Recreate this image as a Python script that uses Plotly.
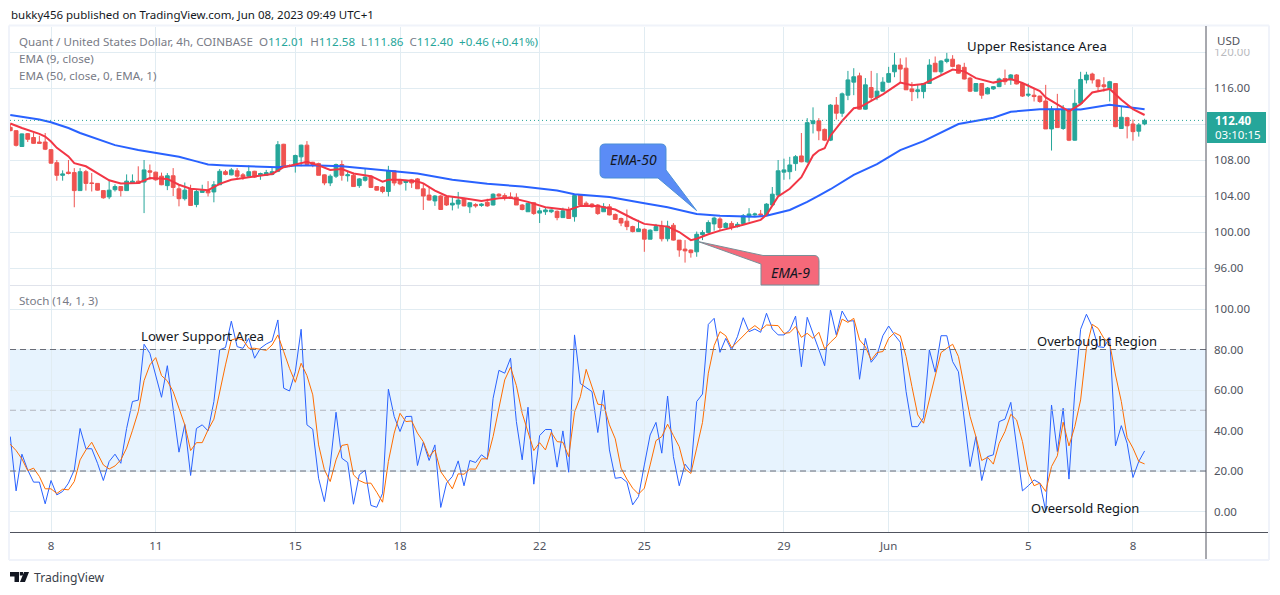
import plotly.graph_objects as go

W, H = 1280, 595

# 4h bars, index 0 = May 8 00:00
bars = list(range(-7, 189))

opens = [111.63, 111.26, 109.5, 110.93, 110.5, 110.0, 110.0,
    109.15, 107.7, 106.3, 106.65, 106.6, 104.6, 106.7, 105.45, 105.4, 104.6,
    103.9, 104.7, 105.05, 104.6, 105.45, 105.65, 105.55, 106.8, 106.65, 106.2,
    105.15, 106.25, 104.8, 103.7, 104.75, 103.05, 104.4, 104.6, 104.45, 105.25,
    106.7, 106.35, 106.8, 106.35, 106.2, 106.75, 106.3, 106.3, 106.4, 106.75,
    109.75, 107.4, 107.5, 108.35, 109.65, 107.75, 107.6, 106.35, 105.45, 106.2,
    107.5, 106.25, 106.3, 105.15, 105.75, 106.2, 105.05, 105.0, 104.5, 106.8,
    105.8, 105.5, 105.8, 105.9, 104.8, 104.1, 103.45, 104.0, 103.9, 103.0,
    103.1, 103.7, 102.8, 103.05, 102.95, 103.3, 103.0, 104.2, 104.05, 103.9,
    103.85, 103.0, 102.25, 103.25, 102.1, 102.25, 102.25, 102.3, 101.6, 102.45,
    101.7, 104.1, 103.2, 103.1, 103.0, 102.25, 102.8, 101.95, 101.5, 101.2,
    100.6, 100.05, 100.3, 99.2, 100.15, 100.65, 99.25, 100.75, 99.1, 98.1,
    98.0, 97.8, 99.7, 99.95, 100.9, 101.45, 100.5, 100.95, 100.6, 100.95,
    101.7, 101.9, 102.0, 101.9, 103.0, 104.1, 106.65, 106.7, 107.6, 108.45,
    107.8, 112.05, 112.35, 111.4, 110.2, 114.1, 113.2, 115.2, 116.65, 117.35,
    113.65, 116.05, 114.95, 115.65, 116.65, 117.8, 118.55, 118.2, 115.9, 115.6,
    115.6, 116.5, 118.75, 117.8, 118.95, 119.2, 118.55, 118.3, 117.1, 115.65,
    116.5, 115.35, 115.9, 116.15, 117.05, 116.9, 117.45, 116.5, 115.2, 115.2,
    115.1, 114.55, 111.45, 113.65, 111.5, 113.5, 110.2, 114.3, 116.9, 117.55,
    116.9, 116.35, 115.95, 116.5, 111.5, 112.7, 112.0, 111.2, 112.01]

highs = [112.0, 111.3, 110.95, 111.0, 111.0, 110.7, 111.0,
    109.2, 108.0, 106.85, 108.0, 107.1, 107.1, 106.9, 106.55, 105.4, 104.6,
    105.8, 105.3, 105.1, 106.4, 106.4, 107.3, 108.0, 107.5, 106.7, 106.6,
    106.55, 107.1, 105.25, 105.5, 105.25, 104.75, 105.25, 105.65, 105.65, 107.0,
    106.9, 107.1, 107.1, 106.55, 107.4, 106.8, 106.6, 106.9, 107.1, 110.1,
    109.8, 107.5, 108.6, 109.7, 110.1, 107.8, 107.7, 106.4, 106.4, 107.6,
    107.95, 106.75, 106.6, 106.0, 107.1, 106.3, 105.1, 105.1, 107.35, 106.85,
    105.9, 105.8, 105.9, 106.0, 105.4, 104.95, 104.1, 104.1, 104.0, 103.9,
    104.45, 103.8, 103.3, 103.2, 103.2, 103.7, 104.3, 104.3, 104.3, 104.4,
    104.3, 103.1, 103.25, 103.3, 102.7, 102.75, 102.5, 102.4, 102.7, 102.8,
    104.2, 104.2, 103.4, 103.2, 103.1, 103.2, 103.1, 102.05, 101.6, 102.5,
    100.7, 101.35, 100.4, 100.3, 100.9, 101.25, 101.25, 101.0, 99.1, 99.1,
    98.05, 100.05, 100.2, 101.3, 101.7, 101.65, 101.1, 101.2, 101.1, 102.0,
    102.65, 102.15, 102.45, 103.2, 105.0, 108.0, 108.15, 108.35, 108.55, 111.0,
    112.65, 113.85, 112.65, 111.5, 114.2, 115.0, 115.5, 117.9, 118.2, 117.7,
    117.1, 117.9, 117.65, 117.2, 118.35, 119.9, 119.3, 119.4, 116.65, 116.35,
    116.55, 119.2, 119.5, 119.1, 119.9, 119.65, 118.6, 118.8, 117.25, 116.55,
    116.55, 116.1, 116.2, 117.15, 118.05, 117.55, 117.55, 116.6, 116.5, 116.0,
    115.15, 116.35, 114.0, 115.35, 114.1, 113.7, 115.85, 117.8, 117.8, 117.7,
    116.95, 117.2, 116.8, 116.55, 113.9, 112.8, 112.5, 112.1, 112.58]

lows = [111.2, 109.5, 109.5, 110.0, 109.8, 109.8, 109.1,
    107.6, 105.7, 105.7, 106.4, 102.75, 104.6, 104.6, 104.5, 104.6, 103.7,
    103.65, 104.5, 103.95, 104.6, 105.4, 105.4, 102.1, 105.8, 105.7, 105.2,
    104.65, 104.0, 102.85, 103.5, 102.95, 102.75, 104.4, 103.95, 103.3, 105.25,
    106.3, 106.3, 105.8, 105.8, 106.1, 106.0, 105.8, 106.25, 106.3, 106.65,
    107.15, 107.2, 106.6, 107.3, 107.5, 107.2, 106.3, 105.2, 105.1, 106.0,
    105.7, 105.6, 105.05, 104.9, 105.6, 104.95, 104.6, 104.3, 103.95, 105.15,
    105.2, 104.6, 104.9, 104.8, 102.45, 103.5, 102.9, 102.45, 102.9, 102.4,
    102.6, 102.85, 102.1, 102.7, 102.8, 102.8, 102.95, 103.9, 103.5, 103.7,
    103.0, 102.4, 102.25, 101.9, 101.0, 101.9, 102.1, 101.3, 101.6, 101.5,
    101.15, 103.0, 102.9, 102.7, 101.9, 102.25, 101.85, 101.4, 100.65, 100.2,
    99.95, 100.0, 97.8, 99.2, 100.1, 98.95, 98.95, 99.05, 97.25, 96.6,
    97.15, 97.25, 99.1, 99.9, 100.15, 100.2, 100.45, 100.2, 100.5, 100.9,
    101.15, 101.7, 101.65, 101.85, 103.0, 103.9, 105.8, 105.85, 106.8, 107.75,
    107.65, 110.95, 110.2, 110.1, 110.1, 112.5, 112.8, 114.65, 115.2, 113.6,
    113.6, 114.65, 114.65, 115.6, 116.6, 117.2, 116.6, 115.8, 114.55, 114.85,
    114.85, 116.45, 117.8, 117.45, 118.75, 118.3, 117.6, 116.95, 115.55, 115.6,
    114.8, 115.3, 115.8, 116.1, 116.35, 116.35, 116.4, 115.0, 115.0, 114.5,
    114.35, 111.45, 109.05, 111.6, 111.35, 110.1, 110.15, 114.3, 116.5, 116.5,
    115.6, 115.6, 114.5, 111.65, 111.5, 110.4, 110.15, 110.6, 111.86]

closes = [111.26, 109.63, 110.9, 110.3, 109.85, 109.85, 109.2,
    107.65, 106.3, 106.45, 106.5, 104.6, 106.7, 105.4, 105.4, 104.65, 103.8,
    104.65, 105.05, 104.6, 105.65, 105.65, 105.4, 106.9, 106.65, 105.8, 105.25,
    106.25, 104.95, 103.7, 104.65, 102.95, 104.5, 104.6, 104.35, 105.25, 106.75,
    106.4, 106.9, 106.2, 106.1, 106.7, 106.1, 106.5, 106.6, 106.7, 109.7,
    107.2, 107.3, 108.5, 109.65, 107.5, 107.5, 106.3, 105.45, 106.2, 107.5,
    106.3, 106.35, 105.05, 105.9, 106.1, 104.95, 104.65, 104.5, 106.8, 105.45,
    105.35, 105.7, 105.45, 104.8, 104.0, 103.55, 104.0, 102.5, 103.0, 103.2,
    103.55, 102.9, 103.25, 102.9, 103.1, 102.9, 104.2, 104.0, 103.85, 103.8,
    103.0, 102.5, 103.2, 102.05, 102.35, 102.45, 102.45, 101.6, 102.35, 101.5,
    104.05, 103.0, 102.95, 102.8, 102.05, 102.8, 101.9, 101.4, 101.0, 100.6,
    100.05, 100.35, 99.2, 100.2, 100.6, 99.25, 100.65, 99.1, 98.0, 97.9,
    97.7, 99.75, 99.95, 101.05, 101.55, 100.5, 100.95, 100.5, 100.85, 101.8,
    102.0, 102.0, 101.9, 103.1, 104.2, 106.8, 106.9, 107.45, 108.37, 107.8,
    112.15, 112.35, 111.25, 110.2, 114.1, 113.2, 115.35, 116.9, 117.25, 113.65,
    116.35, 114.95, 115.65, 116.65, 117.6, 118.55, 118.1, 115.8, 115.6, 115.8,
    116.5, 118.55, 117.8, 119.0, 119.2, 118.4, 117.65, 117.0, 115.65, 116.5,
    115.2, 116.0, 116.15, 117.0, 116.7, 117.45, 116.45, 115.1, 115.3, 115.05,
    114.5, 111.45, 113.65, 111.6, 113.65, 110.2, 114.3, 116.95, 117.45, 116.9,
    116.15, 116.15, 116.7, 111.7, 112.75, 111.8, 111.15, 111.9, 112.40]

ema9_bars = [-7, -5, -2, -1, 0, 1, 3, 4, 6, 8, 10, 12, 15, 17, 20, 22, 24, 27, 29, 31, 34, 38, 40, 42,
    44, 46, 48, 50, 52, 55, 57, 58, 60, 63, 64, 66, 68, 71, 74, 77, 79, 82, 85, 89, 91, 94, 97, 100,
    102, 106, 108, 110, 111, 113, 115, 119, 122, 123, 125, 127, 129, 131, 132, 133, 134, 136, 138,
    139, 141, 143, 146, 148, 150, 153, 155, 157, 159, 162, 165, 167, 170, 171, 173, 175, 177, 179,
    182, 184, 186, 188]
ema9 = [112.05, 111.55, 110.9, 110.6, 110.05, 109.35, 108.4, 107.65, 107.3, 106.55, 105.75, 105.4,
    105.45, 106.0, 105.9, 105.25, 104.8, 104.65, 105.35, 105.8, 106.05, 106.45, 107.2, 107.5,
    107.8, 107.4, 106.9, 107.0, 106.5, 106.2, 105.6, 105.8, 105.8, 105.6, 105.4, 104.6, 104.0,
    103.75, 103.45, 103.75, 103.8, 103.35, 102.75, 102.45, 102.9, 102.9, 102.5, 101.5, 100.9,
    100.6, 100.0, 99.1, 99.25, 99.75, 100.15, 100.8, 101.35, 101.9, 103.95, 104.8, 106.1, 108.5,
    109.05, 109.3, 110.7, 112.35, 113.75, 113.85, 114.55, 115.3, 116.6, 116.3, 116.45, 117.45,
    118.05, 117.85, 117.1, 116.6, 117.0, 116.55, 115.65, 114.95, 114.2, 113.4, 114.2, 115.5,
    115.9, 114.7, 113.65, 113.0]

ema50_bars = [-7, -2, 0, 3, 5, 8, 11, 15, 19, 22, 25, 27, 30, 35, 39, 42, 46, 50, 54, 60, 63, 69, 75,
    81, 87, 90, 96, 102, 106, 111, 115, 121, 123, 127, 130, 132, 134, 138, 142, 146, 150, 156, 162,
    165, 170, 173, 177, 182, 184, 188]
ema50 = [113.0, 112.5, 112.2, 111.55, 111.0, 110.35, 109.65, 109.1, 108.65, 108.35, 107.85, 107.5,
    107.4, 107.3, 107.2, 107.4, 107.4, 107.3, 107.05, 106.7, 106.5, 105.8, 105.35, 105.05, 104.6,
    104.2, 103.9, 103.2, 102.75, 102.0, 101.8, 101.7, 101.8, 102.45, 103.35, 104.05, 104.75,
    106.35, 107.55, 109.1, 110.1, 112.0, 112.7, 113.35, 113.65, 113.65, 113.6, 114.15, 114.0, 113.65]

stoch_k = [37, 10.2, 28.3, 20.5, 14.5, 14.5, 3.8,
    15.3, 8.2, 9.9, 14, 20.5, 41, 31, 31, 23.8, 15.3,
    24.7, 28.3, 23.8, 41, 54.3, 55, 82.6, 78.1, 66.6, 56.4,
    72, 50.7, 29.3, 43, 17.8, 41, 42.8, 39.8, 54.3, 79.8,
    81, 94, 81.4, 80.6, 85.5, 75.7, 80.6, 82.7, 84.2, 94.6,
    60.9, 59.5, 69, 90, 42.8, 40.6, 16.4, 4.9, 23, 49,
    26.3, 24.2, 3.6, 18.1, 20.4, 3, 2.1, 9, 60.4, 46.9,
    39.5, 46.9, 47, 22.7, 34.2, 25.2, 32.9, 2, 14, 17.3,
    25, 12.7, 25.2, 24.2, 28, 25.8, 55.9, 69.7, 68.3, 75.7,
    44.4, 25.5, 51.5, 13.5, 37.5, 40.5, 40.5, 21.9, 39.8, 19.4,
    87.2, 63.2, 61.2, 59.2, 39, 59.9, 30.4, 16.4, 16.8, 14.5,
    3.3, 7.4, 23, 37.8, 44, 28.8, 57, 27.1, 12.7, 23.4,
    19.7, 54.3, 58, 92.4, 95.4, 78.6, 85.5, 79.8, 86.3, 95.7,
    88.8, 90.1, 88.5, 97.9, 90.1, 87.2, 87.2, 89.6, 96.5, 71.5,
    95.9, 88, 79.8, 72, 99.5, 87.2, 99, 94, 94.2, 65.3,
    85.5, 73.7, 77.3, 86.8, 91.6, 87.2, 83.6, 59.2, 41.9, 41.9,
    46.4, 79.8, 68.8, 86.8, 86.8, 74, 69, 46, 22.2, 37,
    15.3, 27.1, 28, 44.4, 45.6, 53.9, 32.9, 10.2, 12.7, 15.6,
    14, 0.3, 52.6, 29.6, 51, 16, 59.2, 90, 97.4, 91.3,
    81.4, 81, 85.9, 32.4, 42.4, 33.7, 16.8, 24.7, 29.9]

stoch_d = [33.2, 30.1, 26, 20.2, 21.4, 17.3, 11.2,
    11.2, 8.9, 11, 10.7, 14.8, 25.5, 30.4, 34.2, 28.3, 23,
    21, 22.5, 25.5, 31.3, 40, 49.3, 64.6, 72.4, 76, 67.1,
    64.5, 59.2, 51, 42.8, 30.1, 34, 34, 40.3, 45.6, 59.5,
    72.4, 84.7, 85.5, 84.7, 80.6, 80.6, 80.1, 79.6, 82.2, 87.2,
    79, 70.7, 63.8, 73.2, 67.1, 57.6, 32.9, 20.6, 14.8, 25.5,
    32.6, 33.2, 18.1, 15.3, 14, 14, 9.5, 4.6, 24.7, 38.7,
    48.5, 44.4, 44.7, 38.7, 34.5, 27.1, 30.4, 19.7, 15.6, 11.2,
    18.6, 18.4, 21, 20.9, 26, 26, 37, 50.2, 65, 71.2,
    62.2, 48.5, 39.5, 30.1, 34, 30.4, 39.1, 34.5, 34.2, 27.1,
    49, 56.7, 70.2, 61.7, 53, 52.6, 42.8, 35.9, 21.4, 16,
    11.5, 8.6, 11.5, 23, 35, 37, 43.1, 37.5, 32, 21,
    18.8, 31.3, 44, 68.3, 81.9, 88.8, 86.8, 80.9, 83.9, 86.8,
    89.6, 91.8, 89.6, 92.1, 92.1, 91.8, 88, 88.3, 91.3, 86,
    88, 85.5, 88.5, 80.3, 83.6, 86.3, 95, 93.4, 95.4, 84.7,
    81.4, 74.8, 78.5, 79, 85.5, 88.3, 86.8, 76.5, 61.7, 47.7,
    43.6, 55.1, 65.8, 78.5, 80.6, 82.6, 76.5, 61.7, 46.9, 37,
    25.2, 26.8, 23.4, 33.7, 39.5, 48, 45.2, 34.5, 19.2, 12.7,
    14, 9.9, 22.2, 27.5, 44.1, 32.4, 41.9, 55.1, 80.6, 92.4,
    90.5, 85.5, 83, 67.4, 54.3, 36.5, 31.3, 24.7, 23.5]

date_ticks = [0, 18, 42, 60, 84, 102, 126, 144, 168, 186]
date_labels = ["8", "11", "15", "18", "22", "25", "29", "Jun", "5", "8"]
price_ticks = [96, 100, 104, 108, 112, 116, 120]
# 112.00 sits under the last price box
price_labels = ["96.00", "100.00", "104.00", "108.00", "", "116.00", "120.00"]
stoch_ticks = [0, 20, 40, 60, 80, 100]
last_price = 112.40

FONT = "Noto Sans"
GRID = "#e1ecf2"
UP = "#26a69a"
DOWN = "#ef5350"
AXIS = "#50535e"
GREY = "#787b86"


def pt(x, y):
    # pixel position -> paper coordinates for path strings
    return f"{x / W:.5f},{1 - y / H:.5f}"


def rect(x0, y0, x1, y1, **kw):
    return dict(type="rect", xref="paper", yref="paper", x0=x0 / W, x1=x1 / W,
                y0=1 - y0 / H, y1=1 - y1 / H, **kw)


def seg(x0, y0, x1, y1, color, width=1):
    return dict(type="line", xref="paper", yref="paper", x0=x0 / W, x1=x1 / W,
                y0=1 - y0 / H, y1=1 - y1 / H, line=dict(color=color, width=width), layer="above")


def label(x, y, text, color="#131722", size=13, anchor="left", **kw):
    return dict(xref="paper", yref="paper", x=x / W, y=1 - y / H, text=text, showarrow=False,
                xanchor=anchor, yanchor="middle", font=dict(family=FONT, size=size, color=color),
                borderpad=0, **kw)


fig = go.Figure()

fig.add_trace(go.Candlestick(
    x=bars, open=opens, high=highs, low=lows, close=closes,
    increasing=dict(line=dict(color=UP, width=1), fillcolor=UP),
    decreasing=dict(line=dict(color=DOWN, width=1), fillcolor=DOWN),
    whiskerwidth=0, xaxis="x", yaxis="y",
))
fig.add_trace(go.Scatter(x=ema50_bars, y=ema50, mode="lines", line=dict(color="#2962ff", width=2),
                         xaxis="x", yaxis="y"))
fig.add_trace(go.Scatter(x=ema9_bars, y=ema9, mode="lines", line=dict(color="#f23645", width=2),
                         xaxis="x", yaxis="y"))
fig.add_trace(go.Scatter(x=bars, y=stoch_k, mode="lines", line=dict(color="#2962ff", width=1),
                         xaxis="x2", yaxis="y2"))
fig.add_trace(go.Scatter(x=bars, y=stoch_d, mode="lines", line=dict(color="#ff6d00", width=1),
                         xaxis="x2", yaxis="y2"))

# x scale: bar 0 sits at pixel 51, 5.817 px per bar
x_range = [(10 - 51) / 5.817, (1206 - 51) / 5.817]
price_range = [116 - (285 - 88) / 9, 116 + (88 - 27) / 9]
stoch_range = [-(532 - 511.5) / 2.025, (511.5 - 286) / 2.025]

axis_font = dict(family=FONT, size=11.5, color=AXIS)
fig.update_layout(
    width=W, height=H, margin=dict(l=0, r=0, t=0, b=0), autosize=False,
    paper_bgcolor="white", plot_bgcolor="white", showlegend=False, boxgap=0.35, boxgroupgap=0,
    xaxis=dict(domain=[10 / W, 1206 / W], range=x_range, anchor="y", showticklabels=False,
               tickvals=date_ticks, gridcolor=GRID, zeroline=False, rangeslider=dict(visible=False)),
    yaxis=dict(domain=[1 - 285 / H, 1 - 27 / H], range=price_range, side="right", anchor="x",
               tickvals=price_ticks, ticktext=price_labels, gridcolor=GRID, zeroline=False,
               tickfont=axis_font, ticklabelstandoff=7),
    xaxis2=dict(domain=[10 / W, 1206 / W], range=x_range, anchor="y2", matches="x",
                tickvals=date_ticks, ticktext=date_labels, gridcolor=GRID, zeroline=False,
                tickfont=axis_font, ticks="", ticklabelstandoff=5),
    yaxis2=dict(domain=[1 - 532 / H, 1 - 286 / H], range=stoch_range, side="right", anchor="x2",
                tickvals=stoch_ticks, tickformat=".2f", gridcolor=GRID, zeroline=False,
                tickfont=axis_font, ticklabelstandoff=7),
)

# stochastic band and levels
shapes = [
    dict(type="rect", xref="x2 domain", yref="y2", x0=0, x1=1, y0=20, y1=80,
         fillcolor="rgba(33,150,243,0.11)", line_width=0, layer="below"),
    dict(type="line", xref="x2 domain", yref="y2", x0=0, x1=1, y0=80, y1=80,
         line=dict(color="#6a6d78", width=1, dash="6px,4px")),
    dict(type="line", xref="x2 domain", yref="y2", x0=0, x1=1, y0=50, y1=50,
         line=dict(color="#b2b5be", width=1, dash="6px,4px")),
    dict(type="line", xref="x2 domain", yref="y2", x0=0, x1=1, y0=20, y1=20,
         line=dict(color="#6a6d78", width=1, dash="6px,4px")),
    dict(type="line", xref="x domain", yref="y", x0=0, x1=1, y0=last_price, y1=last_price,
         line=dict(color=UP, width=1, dash="1px,3px")),
]

# outer frame and pane separators
frame = "#f0f3fa"
shapes += [
    rect(0, 24.5, 9, 561, fillcolor="white", line_width=0, layer="above"),
    seg(9, 25.5, 1269, 25.5, frame, 2),
    seg(9, 560, 1269, 560, frame, 2),
    seg(9, 25.5, 9, 560, frame, 2),
    seg(1269, 25.5, 1269, 560, frame, 2),
    seg(10, 285.5, 1206, 285.5, "#e0e3eb", 1),
    seg(1206, 26, 1206, 559, AXIS, 1),
    seg(10, 532.5, 1268, 532.5, AXIS, 1),
    # USD box hides most of the 120 tick
    rect(1208, 28, 1266, 49, fillcolor="white", line_width=0, layer="above"),
    rect(1208, 49, 1266, 57, fillcolor="rgba(255,255,255,0.6)", line_width=0, layer="above"),
    rect(1207, 112, 1266, 143, fillcolor=UP, line_width=0, layer="above"),
]

# callouts
blue_path = (f"M{pt(605, 144)} L{pt(661, 144)} Q{pt(666, 144)} {pt(666, 149)} L{pt(666, 170)} "
             f"L{pt(696.5, 210.5)} L{pt(658, 178)} L{pt(605, 178)} Q{pt(600, 178)} {pt(600, 173)} "
             f"L{pt(600, 149)} Q{pt(600, 144)} {pt(605, 144)} Z")
red_path = (f"M{pt(698, 241.5)} L{pt(763, 255.5)} L{pt(814, 255.5)} Q{pt(819, 255.5)} {pt(819, 261)} "
            f"L{pt(819, 285)} L{pt(761, 285)} L{pt(761, 264)} Z")
logo_path = (f"M{pt(10, 572)} L{pt(19, 572)} L{pt(19, 582)} L{pt(14.5, 582)} L{pt(14.5, 576.5)} L{pt(10, 576.5)} Z "
             f"M{pt(29, 572)} L{pt(25, 582)} L{pt(20, 582)} L{pt(24, 572)} Z "
             f"M{pt(19.8, 572)} L{pt(23, 572)} L{pt(23, 575.5)} L{pt(19.8, 575.5)} Z")
shapes += [
    dict(type="path", xref="paper", yref="paper", path=blue_path, fillcolor="#5b8cf6",
         line=dict(color="#4a8fd6", width=1), layer="above"),
    dict(type="path", xref="paper", yref="paper", path=red_path, fillcolor="#f5697a",
         line=dict(color="#7a8f98", width=1), layer="above"),
    dict(type="path", xref="paper", yref="paper", path=logo_path, fillcolor="#131722",
         line_width=0, layer="above"),
]
fig.update_layout(shapes=shapes)

val = UP
ohlc = (f'<span style="color:{val}">112.01</span>  H<span style="color:{val}">112.58</span>  '
        f'L<span style="color:{val}">111.86</span>  C<span style="color:{val}">112.40</span> '
        f'<span style="color:{val}"> +0.46 (+0.41%)</span>')
fig.update_layout(annotations=[
    label(10, 14.5, "bukky456 published on TradingView.com, Jun 08, 2023 09:49 UTC+1", size=11.5),
    label(18, 42, "Quant / United States Dollar, 4h, COINBASE  O" + ohlc, color=GREY, size=11.6),
    label(18, 59, "EMA (9, close)", color=GREY, size=11.6),
    label(18, 75.5, "EMA (50, close, 0, EMA, 1)", color=GREY, size=11.6),
    label(18, 300.5, "Stoch (14, 1, 3)", color=GREY, size=11.6),
    label(966, 46, "Upper Resistance Area", size=13.2),
    label(140, 336, "Lower Support Area", size=13.2),
    label(1036, 340.5, "Overbought Region"),
    label(1030, 508, "Oveersold Region"),
    label(633, 160, "<i>EMA-50</i>", size=14, anchor="center"),
    label(790, 272.5, "<i>EMA-9</i>", size=14, anchor="center"),
    label(1216, 41, "USD", color=AXIS, size=11.5),
    label(1214, 120.5, "<b>112.40</b>", color="white", size=11.5),
    label(1214, 134.5, "03:10:15", color="white", size=11.5),
    label(33, 577.5, "TradingView", color="#3b3f4a", size=12.2),
])

fig.write_html("out.html", config={"displayModeBar": False}, post_script="document.body.style.margin='0';")
